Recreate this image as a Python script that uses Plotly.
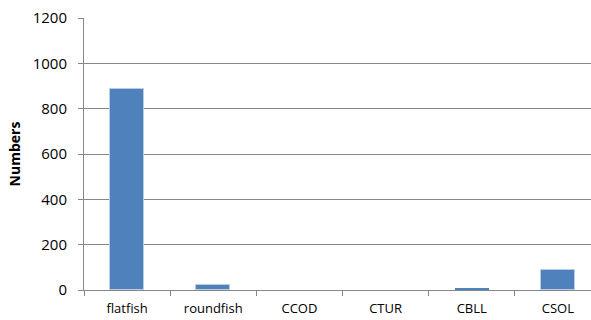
import plotly.graph_objects as go

categories = ["flatfish", "roundfish", "CCOD", "CTUR", "CBLL", "CSOL"]
numbers = [886, 21, 0, 0, 6, 87]
y_ticks = [0, 200, 400, 600, 800, 1000, 1200]

font_family = "Open Sans, Liberation Sans, sans-serif"
grid_col = "#878787"

fig = go.Figure(
    go.Bar(
        x=list(range(len(categories))),
        y=numbers,
        width=0.39,
        marker=dict(
            color="#4F81BD",
            line=dict(color="#B9CDE5", width=[1 if v > 10 else 0 for v in numbers]),
        ),
    )
)

fig.update_layout(
    width=591,
    height=320,
    margin=dict(l=84, r=0, t=18, b=30),
    paper_bgcolor="white",
    plot_bgcolor="white",
    showlegend=False,
    font=dict(family=font_family, size=14, color="#000000"),
    bargap=0,
)

fig.update_xaxes(
    range=[-0.5, 5.384],
    tickmode="array",
    tickvals=list(range(len(categories))),
    ticktext=categories,
    showgrid=False,
    showline=True,
    linecolor=grid_col,
    linewidth=1,
    ticks="",
    zeroline=False,
    ticklabelstandoff=6,
    tickfont=dict(size=13, family=font_family),
)
fig.update_xaxes(
    minor=dict(
        tickmode="array",
        tickvals=[i - 0.5 for i in range(len(categories))],
        ticks="outside",
        ticklen=5,
        tickcolor=grid_col,
        showgrid=False,
    )
)

fig.update_yaxes(
    range=[0, 1200],
    tickmode="array",
    tickvals=y_ticks,
    showgrid=True,
    gridcolor=grid_col,
    gridwidth=1,
    showline=True,
    linecolor=grid_col,
    linewidth=1,
    ticks="outside",
    ticklen=5,
    tickcolor=grid_col,
    zeroline=False,
    ticklabelstandoff=8,
    tickfont=dict(size=15, family=font_family),
    title=dict(text="<b>Numbers</b>", font=dict(size=14, family=font_family), standoff=8),
)

fig.write_html("out.html")
